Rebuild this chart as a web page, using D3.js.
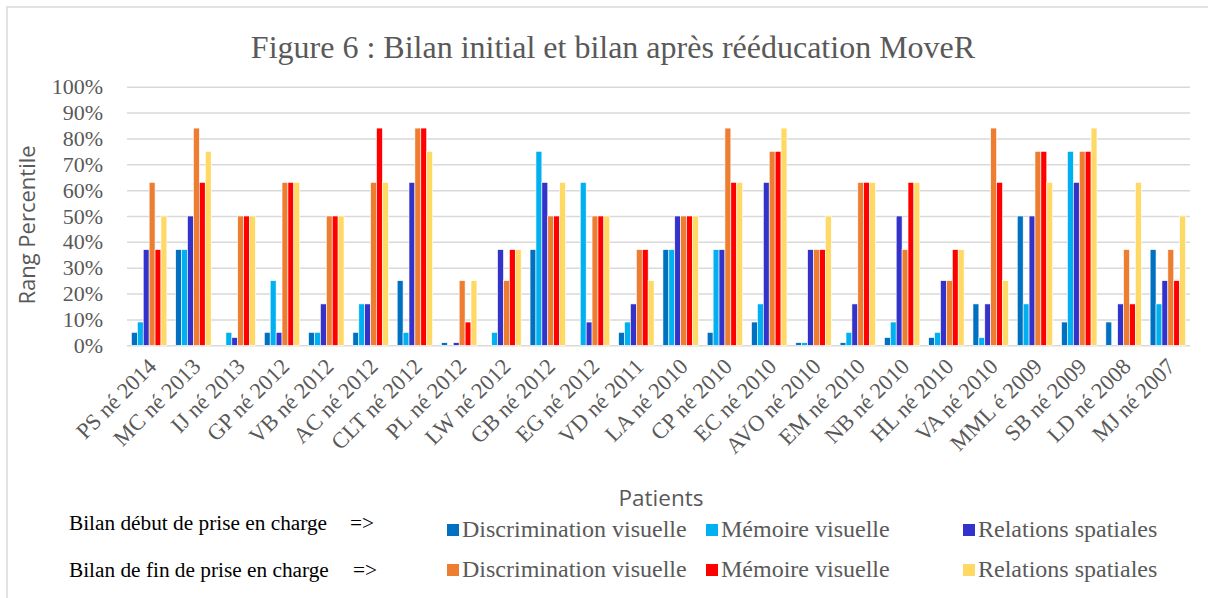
<!DOCTYPE html>
<html>
<head>
<meta charset="utf-8">
<script src="https://cdnjs.cloudflare.com/ajax/libs/d3/7.8.5/d3.min.js"></script>
<style>
	body { margin: 0; background: #fff; }
	svg { display: block; }
</style>
</head>
<body>
<div id="chart"></div>
<script>

// Patients and their percentile ranks (0 = not shown)
var patients = ["PS né 2014", "MC né 2013", "IJ né 2013", "GP né 2012", "VB né 2012", "AC né 2012",
	"CLT né 2012", "PL né 2012", "LW né 2012", "GB né 2012", "EG né 2012", "VD né 2011",
	"LA né 2010", "CP né 2010", "EC né 2010", "AVO né 2010", "EM né 2010", "NB né 2010",
	"HL né 2010", "VA né 2010", "MML é 2009", "SB né 2009", "LD né 2008", "MJ né 2007"];

var discriDebut = [5, 37, 0, 5, 5, 5, 25, 1, 0, 37, 0, 5, 37, 5, 9, 1, 1, 3, 3, 16, 50, 9, 9, 37];
var memoireDebut = [9, 37, 5, 25, 5, 16, 5, 0, 5, 75, 63, 9, 37, 37, 16, 1, 5, 9, 5, 3, 16, 75, 0, 16];
var relationsDebut = [37, 50, 3, 5, 16, 16, 63, 1, 37, 63, 9, 16, 50, 37, 63, 37, 16, 50, 25, 16, 50, 63, 16, 25];
var discriFin = [63, 84, 50, 63, 50, 63, 84, 25, 25, 50, 50, 37, 50, 84, 75, 37, 63, 37, 25, 84, 75, 75, 37, 37];
var memoireFin = [37, 63, 50, 63, 50, 84, 84, 9, 37, 50, 50, 37, 50, 63, 75, 37, 63, 63, 37, 63, 75, 75, 16, 25];
var relationsFin = [50, 75, 50, 63, 50, 63, 75, 25, 37, 63, 50, 25, 50, 63, 84, 50, 63, 63, 37, 25, 63, 84, 63, 50];

var yTicks = [0, 10, 20, 30, 40, 50, 60, 70, 80, 90, 100];

var seriesNames = ["Discrimination visuelle", "Mémoire visuelle", "Relations spatiales",
	"Discrimination visuelle", "Mémoire visuelle", "Relations spatiales"];
var seriesColors = ["#0070C0", "#00B0F0", "#3333CC", "#ED7D31", "#FF0000", "#FFD966"];
var seriesValues = [discriDebut, memoireDebut, relationsDebut, discriFin, memoireFin, relationsFin];

var rowLabels = ["Bilan début de prise en charge", "Bilan de fin de prise en charge"];

///////////////////////////////////////////////////////////////////////////
//////////////////////////// Set up svg container /////////////////////////
///////////////////////////////////////////////////////////////////////////

var svgW = 1208,
	svgH = 598;

var plot = { left: 127, right: 1190, top: 86.7, bottom: 345.3 };

var svg = d3.select("#chart")
	.append("svg")
	.attr("width", svgW)
	.attr("height", svgH);

// Chart frame (only top and left edges are inside the picture)
svg.append("path")
	.attr("d", "M7,598 L7,7 L1208,7")
	.attr("fill", "none")
	.attr("stroke", "#d9d9d9")
	.attr("stroke-width", 1.5);

// Title
svg.append("text")
	.attr("x", 613)
	.attr("y", 58)
	.attr("text-anchor", "middle")
	.style("font-family", "'Liberation Serif', 'Times New Roman', serif")
	.style("font-size", "32px")
	.style("fill", "#595959")
	.text("Figure 6 : Bilan initial et bilan après rééducation MoveR");

///////////////////////////////////////////////////////////////////////////
////////////////////////////////// Scales /////////////////////////////////
///////////////////////////////////////////////////////////////////////////

var x0 = d3.scaleBand()
	.domain(patients)
	.range([plot.left, plot.right])
	.paddingInner(0.2)
	.paddingOuter(0.1);

var x1 = d3.scaleBand()
	.domain(d3.range(seriesValues.length))
	.range([0, x0.bandwidth()]);

var y = d3.scaleLinear()
	.domain([0, 100])
	.range([plot.bottom, plot.top]);

///////////////////////////////////////////////////////////////////////////
//////////////////////////////// Grid + axis //////////////////////////////
///////////////////////////////////////////////////////////////////////////

var yAxis = d3.axisLeft(y)
	.tickValues(yTicks)
	.tickSize(-(plot.right - plot.left))
	.tickPadding(24)
	.tickFormat(function(d) { return d + "%"; });

var gY = svg.append("g")
	.attr("transform", "translate(" + plot.left + ",0)")
	.call(yAxis);

gY.select(".domain").remove();
gY.selectAll(".tick line")
	.attr("stroke", "#d9d9d9")
	.attr("stroke-width", 1.5);
gY.selectAll(".tick text")
	.style("font-family", "'Liberation Serif', 'Times New Roman', serif")
	.style("font-size", "22px")
	.style("fill", "#595959");

// Category labels, rotated
var xAxis = d3.axisBottom(x0)
	.tickSize(0)
	.tickPadding(0);

var gX = svg.append("g")
	.attr("transform", "translate(0," + plot.bottom + ")")
	.call(xAxis);

gX.select(".domain").remove();
gX.selectAll(".tick text")
	.attr("y", 0)
	.attr("dy", "0.35em")
	.attr("transform", "translate(3,17) rotate(-45)")
	.attr("text-anchor", "end")
	.style("font-family", "'Liberation Serif', 'Times New Roman', serif")
	.style("font-size", "22.5px")
	.style("fill", "#595959");

///////////////////////////////////////////////////////////////////////////
////////////////////////////////// Bars ///////////////////////////////////
///////////////////////////////////////////////////////////////////////////

var groups = svg.selectAll(".patient")
	.data(patients)
	.enter()
	.append("g")
	.attr("class", "patient")
	.attr("transform", function(d) { return "translate(" + x0(d) + ",0)"; });

groups.selectAll("rect")
	.data(function(d, i) {
		return seriesValues.map(function(s, k) { return { k: k, value: s[i] }; });
	})
	.enter()
	.append("rect")
	.filter(function(d) { return d.value > 0; })
	.attr("x", function(d) { return x1(d.k); })
	.attr("width", x1.bandwidth())
	.attr("y", function(d) { return y(d.value); })
	.attr("height", function(d) { return y(0) - y(d.value); })
	.attr("fill", function(d) { return seriesColors[d.k]; })
	.attr("stroke", "#fff")
	.attr("stroke-width", 0.6);

///////////////////////////////////////////////////////////////////////////
/////////////////////////////// Axis titles ///////////////////////////////
///////////////////////////////////////////////////////////////////////////

svg.append("text")
	.attr("transform", "translate(35,225) rotate(-90)")
	.attr("text-anchor", "middle")
	.style("font-family", "'Open Sans', sans-serif")
	.style("font-size", "22px")
	.style("fill", "#595959")
	.text("Rang Percentile");

svg.append("text")
	.attr("x", 661)
	.attr("y", 506)
	.attr("text-anchor", "middle")
	.style("font-family", "'Open Sans', sans-serif")
	.style("font-size", "22.5px")
	.style("fill", "#595959")
	.text("Patients");

///////////////////////////////////////////////////////////////////////////
////////////////////////////////// Legend /////////////////////////////////
///////////////////////////////////////////////////////////////////////////

var rowY = [530, 577],
	arrowX = [350, 353],
	itemX = [447, 706, 963];

rowLabels.forEach(function(lab, r) {
	svg.append("text")
		.attr("x", 69)
		.attr("y", rowY[r])
		.style("font-family", "'Liberation Serif', 'Times New Roman', serif")
		.style("font-size", "21.3px")
		.style("fill", "#000")
		.text(lab);
	svg.append("text")
		.attr("x", arrowX[r])
		.attr("y", rowY[r])
		.style("font-family", "'Liberation Serif', 'Times New Roman', serif")
		.style("font-size", "21.3px")
		.style("fill", "#000")
		.text("=>");
});

var legend = svg.selectAll(".legendItem")
	.data(seriesNames)
	.enter()
	.append("g")
	.attr("class", "legendItem")
	.attr("transform", function(d, i) {
		var r = Math.floor(i / 3);
		return "translate(" + itemX[i % 3] + "," + (r === 0 ? 537 : 577) + ")";
	});

legend.append("rect")
	.attr("x", 0)
	.attr("y", -13)
	.attr("width", 12)
	.attr("height", 12)
	.attr("fill", function(d, i) { return seriesColors[i]; });

legend.append("text")
	.attr("x", 15)
	.attr("y", 0)
	.style("font-family", "'Liberation Serif', 'Times New Roman', serif")
	.style("font-size", "24px")
	.style("fill", "#595959")
	.text(function(d) { return d; });

</script>
</body>
</html>
